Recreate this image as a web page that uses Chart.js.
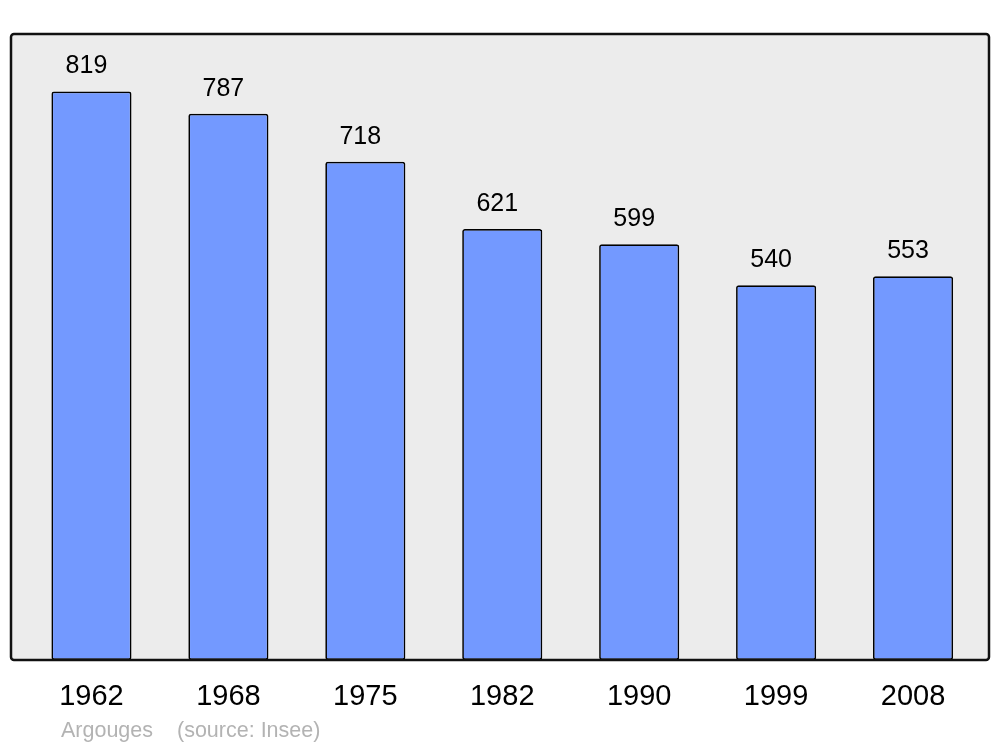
<!DOCTYPE html>
<html>
<head>
<meta charset="utf-8">
<script src="https://cdn.jsdelivr.net/npm/chart.js@4"></script>
<style>
  html, body { margin: 0; padding: 0; background: #fff; }
  #wrap { width: 1000px; height: 747px; }
</style>
</head>
<body>
<div id="wrap"><canvas id="popchart"></canvas></div>
<script>
const years = ['1962', '1968', '1975', '1982', '1990', '1999', '2008'];
const population = [819, 787, 718, 621, 599, 540, 553];
const commune = 'Argouges';
const source = '(source: Insee)';

// grey panel + frame behind and around the bars
const framePlugin = {
    id: 'frame',
    beforeDatasetsDraw(chart) {
        const a = chart.chartArea, c = chart.ctx;
        c.save();
        c.fillStyle = '#ececec';
        c.beginPath();
        c.roundRect(a.left - 12, a.top, a.right - a.left + 19.5, a.bottom - a.top, 3);
        c.fill();
        c.restore();
    },
    afterDatasetsDraw(chart) {
        const a = chart.chartArea, c = chart.ctx;
        c.save();
        // value labels
        c.fillStyle = '#000';
        c.font = '25px "Liberation Sans", Arial, sans-serif';
        c.textAlign = 'center';
        c.textBaseline = 'middle';
        chart.getDatasetMeta(0).data.forEach((bar, i) => {
            c.fillText(population[i], bar.x - 5, bar.y - 25);
        });
        // frame
        c.strokeStyle = '#111';
        c.lineWidth = 2.5;
        c.beginPath();
        c.roundRect(a.left - 12, a.top, a.right - a.left + 19.5, a.bottom - a.top, 3);
        c.stroke();
        // source line
        c.fillStyle = '#b3b3b3';
        c.font = '21.5px "Liberation Sans", Arial, sans-serif';
        c.textAlign = 'left';
        c.textBaseline = 'alphabetic';
        c.fillText(commune, 61, 737);
        c.fillText(source, 177, 737);
        c.restore();
    }
};

const ctx = document.getElementById('popchart').getContext('2d');
const popChart = new Chart(ctx, {
    type: 'bar',
    data: {
        labels: years,
        datasets: [{
            data: population,
            backgroundColor: '#7399ff',
            borderColor: '#000',
            borderWidth: 1.7,
            borderSkipped: false,
            borderRadius: 2.5,
            barPercentage: 0.585,
            categoryPercentage: 1
        }]
    },
    options: {
        responsive: true,
        maintainAspectRatio: false,
        animation: false,
        layout: { padding: { top: 34, left: 23, right: 18.5, bottom: 0 } },
        plugins: {
            legend: { display: false },
            tooltip: { enabled: false }
        },
        scales: {
            x: {
                grid: { display: false, drawTicks: false },
                border: { display: false },
                ticks: {
                    color: '#000',
                    padding: 20,
                    font: { family: '"Liberation Sans", Arial, sans-serif', size: 29 }
                },
                afterFit(scale) { scale.height = 87; }
            },
            y: {
                display: false,
                min: 0,
                max: 902
            }
        }
    },
    plugins: [framePlugin]
});
</script>
</body>
</html>
